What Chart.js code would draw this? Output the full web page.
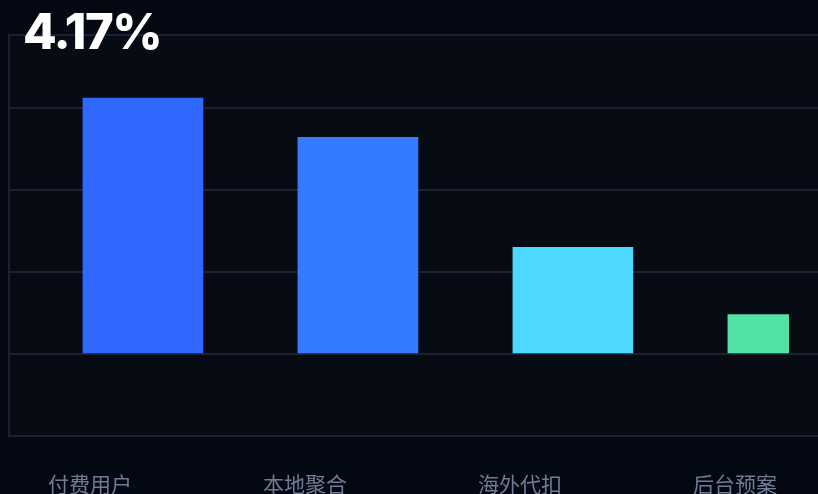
<!DOCTYPE html>
<html>
<head>
<meta charset="utf-8">
<script src="https://cdn.jsdelivr.net/npm/chart.js@4.4.1/dist/chart.umd.min.js"></script>
<style>
    html, body { margin: 0; padding: 0; background: #040812; }
    #wrap { position: relative; width: 818px; height: 494px; overflow: hidden; }
    #box { position: absolute; left: 0; top: 0; width: 818px; height: 543px; }
    #headline {
        position: absolute; left: 23px; top: 7px;
        font-family: Inter, "Noto Sans", sans-serif; font-weight: 800;
        font-size: 49px; line-height: 1; color: #ffffff; letter-spacing: -1.5px;
    }
</style>
</head>
<body>
<div id="wrap">
    <div id="box"><canvas id="chart"></canvas></div>
    <div id="headline">4.17%</div>
</div>
<script>
const categories = ['付费用户', '本地聚合', '海外代扣', '后台预案'];
const values = [31.2, 26.4, 13.0, 4.8];
const barColors = ['#3068ff', '#337bff', '#4dd9ff', '#52e2a5'];

// fill the plot area a touch lighter than the page
const plotBg = {
    id: 'plotBg',
    beforeDraw(chart) {
        const { ctx, chartArea: a } = chart;
        ctx.save();
        ctx.fillStyle = '#070b14';
        ctx.fillRect(a.left, a.top, a.right - a.left, a.bottom - a.top);
        ctx.restore();
    }
};

new Chart(document.getElementById('chart'), {
    type: 'bar',
    data: {
        datasets: [{
            data: values.map((v, i) => ({ x: i, y: v })),
            backgroundColor: barColors,
            barThickness: 120,
            clip: { left: 0, top: 0, right: -29, bottom: 0 }
        }]
    },
    options: {
        responsive: true,
        maintainAspectRatio: false,
        animation: false,
        layout: { padding: { left: 9, right: 0, top: 35, bottom: 18 } },
        plugins: { legend: { display: false }, tooltip: { enabled: false } },
        scales: {
            x: {
                type: 'linear',
                offset: false,
                min: -0.623,
                max: 3.14,
                afterBuildTicks: (scale) => { scale.ticks = categories.map((_, i) => ({ value: i })); },
                afterFit: (scale) => { scale.paddingLeft = 0; scale.paddingRight = 0; },
                grid: { display: false },
                border: { display: false },
                ticks: {
                    callback: (v) => categories[v] ?? '',
                    color: '#6f7c93',
                    font: { family: '"Noto Sans CJK SC", sans-serif', size: 21 },
                    padding: 28,
                    labelOffset: -53,
                    maxRotation: 0,
                    autoSkip: false
                }
            },
            y: {
                min: -10,
                max: 38.9,
                ticks: { display: false, stepSize: 10 },
                grid: { color: '#1b2133', lineWidth: 2, drawTicks: false },
                border: { display: true, color: '#1b2133', width: 2 }
            }
        }
    },
    plugins: [plotBg]
});
</script>
</body>
</html>
